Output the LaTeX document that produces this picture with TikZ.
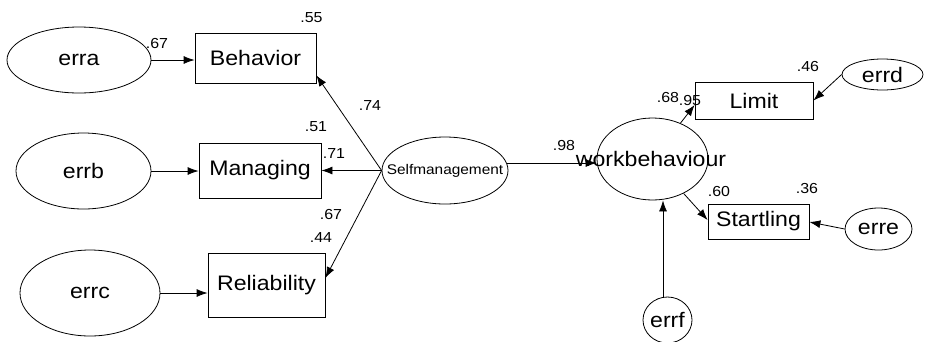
\documentclass[tikz,border=0pt]{standalone}
\usepackage{fontspec}
\setmainfont{Liberation Sans}[FakeStretch=1.1]
\usetikzlibrary{shapes.geometric,arrows.meta,calc}
\begin{document}
\begin{tikzpicture}[x=1pt,y=-1pt,
  box/.style={draw,line width=0.8pt,inner sep=0pt,font=\fontsize{21}{21}\selectfont},
  lat/.style={draw,ellipse,line width=0.8pt,inner sep=0pt,font=\fontsize{21}{21}\selectfont},
  num/.style={inner sep=0pt,font=\fontsize{14.5}{14.5}\selectfont},
  arr/.style={line width=0.8pt,-{Latex[length=11pt,width=8pt]}}]
\useasboundingbox (0,0) rectangle (928,341);
% boxes
\node[box,minimum width=121pt,minimum height=50pt] (beh) at (255.5,58) {Behavior};
\node[box,minimum width=122pt,minimum height=55pt] (man) at (260,170.5) {Managing};
\node[box,minimum width=117pt,minimum height=64pt] (rel) at (266.5,285) {Reliability};
\node[box,minimum width=118pt,minimum height=37pt] (lim) at (754,100.5) {Limit};
\node[box,minimum width=101pt,minimum height=35pt] (sta) at (758.5,221.5) {Startling};
% ellipses
\node[lat,minimum width=144pt,minimum height=66pt] (erra) at (79,60) {erra};
\node[lat,minimum width=135pt,minimum height=76pt] (errb) at (83.5,171) {errb};
\node[lat,minimum width=140pt,minimum height=86pt] (errc) at (90,293) {errc};
\node[lat,minimum width=126pt,minimum height=67pt] (self) at (445,170.5) {};
\node[inner sep=0pt,font=\fontsize{14}{14}\selectfont] (selft) at (445,171) {Selfmanagement};
\node[lat,minimum width=111pt,minimum height=82pt] (wb) at (652.5,159) {};
\node[inner sep=0pt,font=\fontsize{21}{21}\selectfont] (wbt) at (651,159) {workbehaviour};
\node[lat,minimum width=81pt,minimum height=31pt] (errd) at (882.5,74.5) {errd};
\node[lat,minimum width=67pt,minimum height=42pt] (erre) at (878.5,229) {erre};
\node[lat,minimum width=49pt,minimum height=46pt] (errf) at (667.5,320) {errf};
% connectors
\draw[arr] (erra.east) -- (erra.east -| beh.west);
\draw[arr] (errb.east) -- (errb.east -| man.west);
\draw[arr] (errc.east) -- (errc.east -| rel.west);
\coordinate (tb) at ($(beh.south east)+(0,-8)$);
\coordinate (tr) at ($(rel.east)+(0,-7)$);
\draw[arr] (self.west) -- (tb);
\draw[arr] (self.west) -- (self.west -| man.east);
\draw[arr] (self.west) -- (tr);
\path (self.east) ++(-1.5,-7.5) coordinate (s1);
\draw[arr] (s1) -- (s1 -| wb.west);
\coordinate (tl) at ($(lim.west)+(0,4.5)$);
\draw[arr] (wb) -- (tl);
\coordinate (ts) at ($(sta.west)+(0,-1.5)$);
\draw[arr] (wb) -- (ts);
\draw[arr] (errd.west) -- (lim.east);
\draw[arr] (erre.west) -- ($(sta.east)+(0,0.5)$);
\path (errf.north) ++(-4.5,0.5) coordinate (f1);
\draw[arr] (f1) -- (f1 |- wb.south);
% numbers
\node[num] (n55) at (311.5,17.5) {.55};
\node[num] (n67a) at (157,44) {.67};
\node[num] (n74) at (370,106) {.74};
\node[num] (n51) at (316,127) {.51};
\node[num] (n71) at (334,154) {.71};
\node[num] (n67b) at (331,215) {.67};
\node[num] (n44) at (321,238) {.44};
\node[num] (n98) at (564,146) {.98};
\node[num] (n46) at (808,67) {.46};
\node[num] (n68) at (668,97.5) {.68};
\node[num] (n95) at (690,101) {.95};
\node[num] (n60) at (719,192) {.60};
\node[num] (n36) at (807,188.5) {.36};
\end{tikzpicture}
\end{document}
